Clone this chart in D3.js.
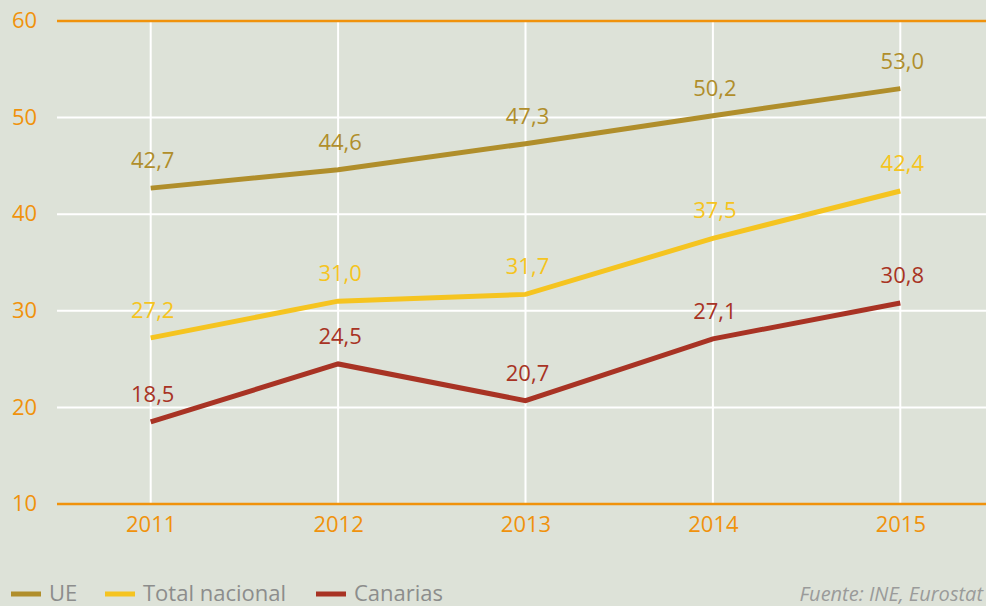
<!DOCTYPE html>
<html>
<head>
<meta charset="utf-8">
<script src="https://cdn.jsdelivr.net/npm/d3@7"></script>
<style>
  html, body { margin: 0; padding: 0; background: #dde2d8; overflow: hidden; }
  svg { display: block; font-family: "Open Sans", "Noto Sans", sans-serif; }
  .tick text { fill: #f0920c; font-size: 22px; font-family: "Open Sans", "Noto Sans", sans-serif; }
  .lbl { font-size: 22px; text-anchor: middle; }
  .legend text { fill: #8c8d8c; font-size: 22px; }
</style>
</head>
<body>
<div class="chart"></div>
<script>
const years = ['2011', '2012', '2013', '2014', '2015']
const ue = [42.7, 44.6, 47.3, 50.2, 53.0]
const totalNacional = [27.2, 31.0, 31.7, 37.5, 42.4]
const canarias = [18.5, 24.5, 20.7, 27.1, 30.8]
const yTicks = [10, 20, 30, 40, 50, 60]

const series = [
  {name: 'UE', values: ue, color: '#b08e2b'},
  {name: 'Total nacional', values: totalNacional, color: '#f5c420'},
  {name: 'Canarias', values: canarias, color: '#a83324'}
]

const width = 986, height = 606
const margin = {top: 21, right: -8, bottom: 102, left: 57}

let svg = d3.select('.chart').append('svg')
  .attr('width', width)
  .attr('height', height)

let x = d3.scalePoint().domain(years).range([margin.left, width - margin.right]).padding(0.5)
let y = d3.scaleLinear().domain([10, 60]).range([height - margin.bottom, margin.top])

// vertical grid
svg.append('g').selectAll('line')
  .data(years).enter().append('line')
  .attr('x1', d => x(d)).attr('x2', d => x(d))
  .attr('y1', y(60)).attr('y2', y(10))
  .attr('stroke', '#ffffff').attr('stroke-width', 2)

// y axis
let yaxis = svg.append('g')
  .attr('transform', 'translate(' + margin.left + ',0)')
  .call(d3.axisLeft(y).tickValues(yTicks).tickSize(0))
yaxis.select('.domain').remove()
yaxis.selectAll('.tick text').attr('text-anchor', 'start').attr('x', -45).attr('dy', '0.3em')

svg.append('g').selectAll('line')
  .data(yTicks).enter().append('line')
  .attr('x1', margin.left).attr('x2', width)
  .attr('y1', d => y(d)).attr('y2', d => y(d))
  .attr('stroke', d => (d == 10 || d == 60) ? '#f0920c' : '#ffffff')
  .attr('stroke-width', d => (d == 10 || d == 60) ? 2.5 : 2)

// x axis labels
let xaxis = svg.append('g')
  .attr('transform', 'translate(0,' + y(10) + ')')
  .call(d3.axisBottom(x).tickSize(0).tickPadding(12))
xaxis.select('.domain').remove()

let valueline = d3.line()
  .x((d, i) => x(years[i]))
  .y(d => y(d))

let linesGroup = svg.append('g')

series.forEach(s => {
  linesGroup.append('path')
    .datum(s.values)
    .attr('d', valueline)
    .attr('fill', 'none')
    .attr('stroke', s.color)
    .attr('stroke-width', 5)

  linesGroup.selectAll('.lbl-' + s.name.replace(' ', ''))
    .data(s.values).enter().append('text')
    .attr('class', 'lbl')
    .attr('x', (d, i) => x(years[i]) + 2)
    .attr('y', d => y(d) - 20)
    .attr('fill', s.color)
    .text(d => d3.format('.1f')(d).replace('.', ','))
})

// legend
let legend = svg.append('g').attr('class', 'legend')
let legendX = [11, 105, 316]
series.forEach((s, i) => {
  let g = legend.append('g').attr('transform', 'translate(' + legendX[i] + ',594)')
  g.append('line').attr('x1', 0).attr('x2', 30).attr('stroke', s.color).attr('stroke-width', 5)
  g.append('text').attr('x', 38).attr('y', 7).text(s.name)
})

svg.append('text')
  .attr('x', 983).attr('y', 601)
  .attr('text-anchor', 'end')
  .attr('fill', '#9a9b9a')
  .style('font-size', '20px')
  .style('font-style', 'italic')
  .text('Fuente: INE, Eurostat')
</script>
</body>
</html>
